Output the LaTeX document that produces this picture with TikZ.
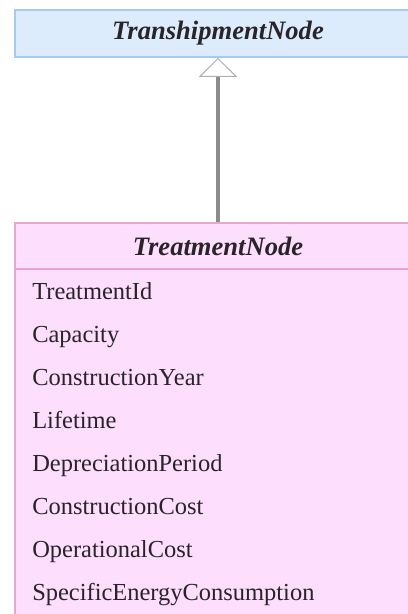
\documentclass[tikz,border=0pt]{standalone}
\usepackage{fontspec}
\setmainfont{Liberation Serif}
\usetikzlibrary{arrows.meta}

\definecolor{tsfill}{RGB}{221,236,252}
\definecolor{tsline}{RGB}{165,203,240}
\definecolor{trfill}{RGB}{253,222,253}
\definecolor{trline}{RGB}{232,165,208}
\definecolor{txtcol}{RGB}{40,36,40}
\definecolor{arrgray}{RGB}{140,140,140}

\begin{document}
\begin{tikzpicture}[
        classbox/.style={rectangle, draw, line width=0.04cm, minimum width=10.15cm, inner sep=0pt},
        title/.style={font=\fontsize{18.9}{22}\selectfont\bfseries\itshape, text=txtcol},
        attr/.style={anchor=base west, inner sep=0pt, font=\fontsize{17.4}{20}\selectfont, text=txtcol},
        inherit/.style={-{Triangle[width=0.95cm, length=0.475cm, line width=0.7pt, color=arrgray!70, fill=white]}, line width=0.1cm, draw=arrgray}
    ]
        \clip (0,0) rectangle (10.2,15.35);

        % Superclass
        \node[classbox, title, fill=tsfill, draw=tsline, minimum height=1.175cm] (tship) at (5.45,14.5125) {TranshipmentNode};

        % Subclass with its attributes
        \node[classbox, fill=trfill, draw=trline, minimum height=9.125cm] (attrs) at (5.45,4.0625) {};
        \node[classbox, title, fill=trfill, draw=trline, minimum height=1.15cm] (treat) at (5.45,9.2) {TreatmentNode};

        \foreach \lbl [count=\i] in {TreatmentId, Capacity, ConstructionYear, Lifetime, DepreciationPeriod, ConstructionCost, OperationalCost, SpecificEnergyConsumption}
            \node[attr] (attr\i) at (0.8,{7.85-1.075*(\i-1)}) {\lbl};

        % Generalisation
        \draw[inherit] (treat.north) -- (tship.south);

    \end{tikzpicture}
\end{document}
